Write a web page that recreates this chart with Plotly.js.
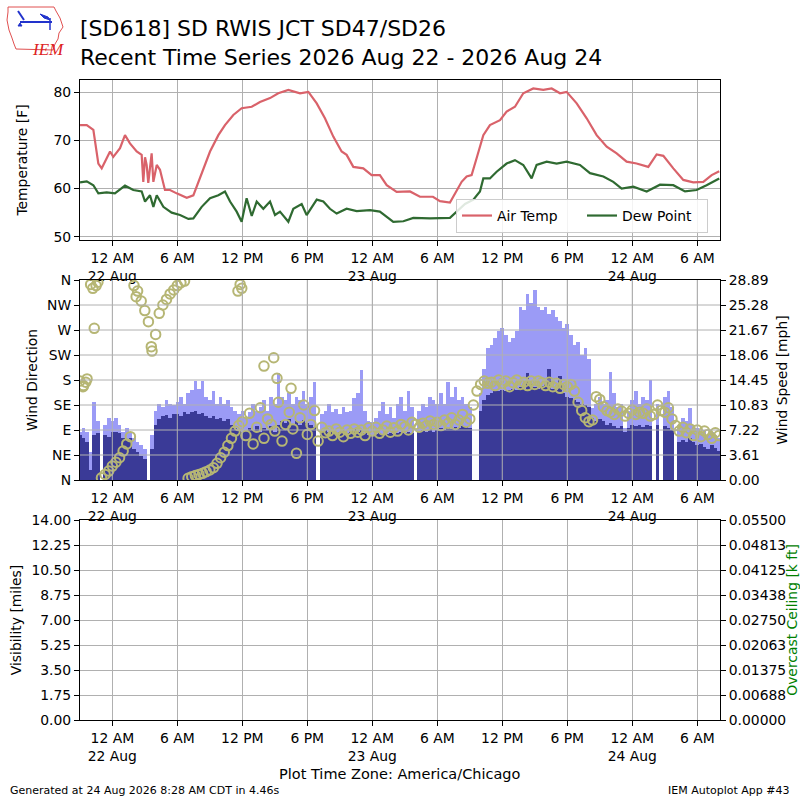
<!DOCTYPE html>
<html><head><meta charset="utf-8">
<script src="https://cdn.plot.ly/plotly-3.0.1.min.js"></script>
<style>html,body{margin:0;padding:0;background:#fff;} #chart{width:800px;height:800px;}</style>
</head><body><div id="chart"></div>
<script>
// ---------- DATA (hours relative to 2026-08-22 00:00 CDT) ----------
const tempHours = [-2.98,-2.36,-1.75,-1.29,-0.98,-0.67,-0.21,0.09,0.71,1.17,1.63,2.25,2.71,2.86,3.02,3.17,3.32,3.63,3.79,4.1,4.4,4.86,5.33,5.94,6.87,7.48,7.94,9.02,9.79,10.4,11.17,11.94,12.87,13.63,14.56,15.32,16.25,17.33,18.1,18.87,19.63,20.4,21.17,21.63,22.25,23.17,23.94,24.7,25.33,26.25,27.48,28.4,29.6,30.25,31.17,31.63,32.25,32.71,33.17,33.63,34.25,34.86,35.79,36.4,37.17,37.94,38.86,39.79,40.56,41.33,41.94,42.87,43.79,44.71,45.64,46.56,47.48,48.4,49.48,50.25,50.87,51.79,52.71,53.63,54.56,55.33,56.03];
const tempValues = [73.2,73.2,72.2,65.2,64.2,65.6,67.7,66.6,68.4,71.1,69.4,67.7,67.0,61.4,66.5,64.9,61.2,67.3,61.4,64.9,63.9,59.7,59.7,59.0,58.1,58.6,61.4,67.7,71.1,73.2,75.3,76.7,77.0,78.0,78.8,79.8,80.5,79.8,80.1,77.7,74.6,70.8,67.7,67.0,64.5,64.2,62.8,62.8,60.7,59.3,59.4,58.3,58.3,57.4,57.1,59.0,61.4,62.5,62.8,66.3,71.1,73.2,74.2,76.0,77.0,79.8,80.8,80.5,80.8,79.8,80.1,77.7,74.6,71.1,68.7,67.3,65.6,65.2,64.5,67.1,66.8,64.2,61.8,61.3,61.4,62.8,63.6];

const dewHours = [-2.98,-2.36,-1.75,-1.29,-0.52,0.24,1.17,1.94,2.71,3.02,3.48,3.79,4.1,4.71,5.48,6.25,7.02,7.48,8.25,9.02,9.79,10.4,10.87,11.48,11.94,12.4,12.87,13.33,13.94,14.56,15.02,15.48,16.25,16.71,17.48,17.94,18.87,19.48,20.09,20.71,21.63,22.56,23.79,24.7,25.94,26.87,27.79,29.33,31.17,31.79,32.56,33.33,33.94,34.25,34.86,35.48,36.4,37.17,37.94,38.71,39.17,40.1,41.02,41.94,43.17,44.1,45.33,46.25,47.02,48.1,49.33,50.56,51.79,52.87,53.94,54.86,56.03];
const dewValues = [61.3,61.5,60.7,59.0,59.2,59.0,60.6,59.7,59.4,57.3,58.6,56.2,58.6,56.2,55.0,54.5,53.7,53.8,56.2,58.0,58.6,59.4,57.3,55.2,53.1,58.0,54.3,57.3,55.8,57.3,54.5,55.2,53.1,55.8,56.8,54.5,57.7,57.3,55.8,54.8,55.8,55.3,55.5,55.2,53.1,53.2,53.9,53.8,53.9,55.2,56.8,57.7,59.4,62.1,62.1,63.5,65.2,65.9,64.9,62.1,64.9,65.6,65.2,65.6,64.9,63.2,62.5,61.4,60.0,60.4,59.4,60.8,60.7,59.4,59.7,60.7,62.1];

// wind: one reading every 20 minutes starting at hour -3
const windStartHour = -3;
const windStepMinutes = 20;
const windSpeed = [
 6.5,6.0,5.5, 1.5,6.5,6.8, null,6.5,6.2, 7.0,7.0,6.8, 6.0,5.8,6.0, 4.5,4.0,3.5, 3.0,null,4.5,
 8.0,8.8,9.2, 9.4,9.0,9.5, 9.6,9.2,9.8, 9.5,9.8,10.0, 9.5,9.7,9.2, 9.0,9.3,8.8, 9.0,8.5,8.8,
 8.0,7.5,7.2, 7.0,7.2,7.5, 7.2,7.8,7.0, 7.5,7.2,7.8, 7.0,8.0,8.5, 8.2,8.8,8.0, 8.5,8.0,8.6,
 8.2,8.0,7.6, null,7.0,7.2, 7.0,7.2,6.8, 7.0,7.2,6.8, 7.0,7.3,7.0, 7.2,6.8,6.5, 6.5,6.6,6.8,
 6.5,6.7,6.8, 6.6,6.8,7.0, 6.8,7.0,6.8, null,7.0,7.2, 7.0,7.3,7.0, 7.2,7.5,7.2, 7.5,7.4,7.6,
 7.5,7.8,7.6, 7.5,null,null, 10.0,11.5,12.3, 12.5,12.8,12.8, 13.0,12.8,13.0, 13.2,13.0,13.5,
 13.2,15.5,13.8, 13.5,13.2,13.6, 13.8,16.0,13.2, 13.0,15.0,12.5, 12.0,11.8,11.5, 11.3,11.0,10.8,
 10.5,9.0,8.5, 8.8,8.5,8.0, 8.2,7.8,7.5, 7.8,7.0,7.5, 8.0,7.8,8.0, 7.6,8.0,7.8, null,8.0,null,
 7.8,7.5,7.2, null,5.5,5.8, 5.5,6.0,5.5, 5.0,5.2,4.8, 4.5,5.0,4.6, 4.2];
const windGust = [
 7.0,7.5,7.0, 4.0,11.3,8.5, null,8.0,9.0, 8.5,9.0,8.0, 7.0,7.5,6.8, 6.0,5.5,5.0, 4.5,null,6.5,
 10.0,11.0,10.5, 11.5,11.0,10.8, 11.3,12.0,11.0, 12.5,13.0,14.3, 13.2,14.3,12.0, 11.5,12.8,11.0, 12.0,11.0,11.5,
 10.5,10.0,9.5, 10.0,9.0,9.8, 11.0,10.0,10.5, 11.5,10.0,12.0, 11.0,15.5,12.0, 11.5,12.5,11.0, 12.0,11.5,12.8,
 11.0,12.0,14.2, null,9.5,10.0, 11.0,9.8,10.2, 9.5,10.5,9.8, 10.0,11.8,12.5, 15.9,10.0,8.5, 8.4,9.0,10.0,
 11.3,9.5,10.5, 9.0,11.0,12.0, 10.0,12.8,10.5, null,10.0,11.0, 10.5,12.0,11.5, 11.0,12.5,11.0, 14.2,12.0,13.5,
 11.5,12.0,11.0, 10.5,null,null, 12.5,16.0,19.0, 19.5,20.5,21.5, 22.0,21.0,20.0, 20.5,21.5,25.0,
 24.5,26.9,25.5, 27.4,25.0,24.5, 25.0,24.0,24.5, 23.5,23.0,22.0, 22.5,21.0,19.5, 20.0,18.0,19.0,
 17.5,10.4,11.0, 12.0,11.0,11.5, 15.6,12.5,10.5, 11.0,7.5,10.0, 11.5,12.8,11.0, 12.0,11.5,14.5, null,11.0,null,
 12.0,12.8,10.5, null,8.0,9.0, 8.5,10.4,8.0, 7.5,7.0,7.2, 6.5,7.0,6.5, 6.0];
const windDir = [
 178,170,182, 352,273,356, 4,10,16, 25,32,40, 52,65,78, 350,340,322, 305,285,232,
 262,300,315, 325,335,342, 350,355,358, 3,6,8, 10,12,15, 18,22,30, 40,50,62,
 75,88,98, 105,80,120, 65,95,130, 75,110,100, 88,140,70, 100,122,92, 48,112,135,
 82,100,125, 70,95,85, 88,80,92, 86,78,90, 84,92,86, 90,80,94, 88,95,84,
 90,97,86, 94,88,100, 96,90,104, 100,95,102, 98,106,100, 104,98,108, 102,112,100,
 108,118,104, 110,135,160, 172,178,174, 176,170,180, 174,178,168, 175,180,172,
 176,170,178, 172,178,175, 170,176,168, 174,165,172, 168,172,160, 140,125,112,
 105,108,150, 145,132,125, 122,118,128, 124,115,120, 126,118,122, 120,128,115, 118,135,125,
 122,130,110, 98,88,95, 85,92,80, 90,78,88, 82,75,85, 80];
const dirExtraHours = [-2.7,-2.45,-1.8,-1.5,2.2,3.6,11.6,11.8,11.95,14.0,14.9,15.2,16.5];
const dirExtraValues = [168,176,345,350,330,240,340,352,345,205,220,183,165];

// axis labels
const timeTickVals = ['2026-08-22 00:00','2026-08-22 06:00','2026-08-22 12:00','2026-08-22 18:00','2026-08-23 00:00','2026-08-23 06:00','2026-08-23 12:00','2026-08-23 18:00','2026-08-24 00:00','2026-08-24 06:00'];
const timeTickText = ['12 AM<br>22 Aug','6 AM','12 PM','6 PM','12 AM<br>23 Aug','6 AM','12 PM','6 PM','12 AM<br>24 Aug','6 AM'];
const tempTicks = [50,60,70,80];
const dirTickVals = [0,45,90,135,180,225,270,315,360];
const dirTickText = ['N','NE','E','SE','S','SW','W','NW','N'];
const speedMax = 28.89;
const speedTickText = ['0.00','3.61','7.22','10.83','14.45','18.06','21.67','25.28','28.89'];
const visMax = 14;
const visTickText = ['0.00','1.75','3.50','5.25','7.00','8.75','10.50','12.25','14.00'];
const ceilMax = 0.055;
const ceilTickText = ['0.00000','0.00688','0.01375','0.02063','0.02750','0.03438','0.04125','0.04813','0.05500'];

// ---------- helpers ----------
const BASE = Date.UTC(2026,7,22,0,0,0);
function toDate(h){ return new Date(BASE + Math.round(h*3600000)).toISOString().slice(0,19).replace('T',' '); }
const windTimes = windSpeed.map((_,i)=>toDate(windStartHour + i*windStepMinutes/60));
const FONT = 'DejaVu Sans, Verdana, sans-serif';
const FS = 13.9;
const GRID = '#b0b0b0';
const xr = ['2026-08-21 21:01','2026-08-24 08:06'];

function xAxis(anchor){
  return {domain:[0.1,0.9], anchor:anchor, type:'date', range:xr, tickmode:'array',
    tickvals:timeTickVals, ticktext:timeTickText, ticks:'outside', ticklen:5, tickwidth:1, tickcolor:'#000',
    showline:true, mirror:true, linecolor:'#000', linewidth:1, showgrid:true, gridcolor:GRID, gridwidth:1,
    zeroline:false, tickfont:{size:FS}, tickangle:0};
}
function yBase(o){
  return Object.assign({ticks:'outside', ticklen:5, tickwidth:1, tickcolor:'#000', showline:true, linecolor:'#000',
    linewidth:1, showgrid:true, gridcolor:GRID, gridwidth:1, zeroline:false, tickfont:{size:FS}}, o);
}
function steps(n, max){ const a=[]; for(let i=0;i<=n;i++) a.push(max*i/n); return a; }

// ---------- traces ----------
const traces = [
  {type:'scatter', mode:'lines', name:'Air Temp', x:tempHours.map(toDate), y:tempValues, xaxis:'x', yaxis:'y',
   line:{color:'#d9626a', width:2.2}},
  {type:'scatter', mode:'lines', name:'Dew Point', x:dewHours.map(toDate), y:dewValues, xaxis:'x', yaxis:'y',
   line:{color:'#2f6a31', width:2.2}},
  {type:'bar', name:'Wind Gust', x:windTimes, y:windGust, xaxis:'x2', yaxis:'y2', width:windStepMinutes*60000,
   marker:{color:'#9b9bf6', line:{width:0}}, showlegend:false},
  {type:'bar', name:'Wind Speed', x:windTimes, y:windSpeed, xaxis:'x2', yaxis:'y2', width:windStepMinutes*60000,
   marker:{color:'#3a3a97', line:{width:0}}, showlegend:false},
  {type:'scatter', mode:'markers', name:'Wind Direction', x:windTimes.concat(dirExtraHours.map(toDate)),
   y:windDir.concat(dirExtraValues), xaxis:'x2', yaxis:'y4', showlegend:false,
   marker:{symbol:'circle-open', size:9.5, color:'#b6b674', line:{width:2, color:'#b6b674'}}},
  {type:'scatter', mode:'markers', name:'Visibility', x:[], y:[], xaxis:'x3', yaxis:'y3', showlegend:false},
  {type:'scatter', mode:'markers', name:'Ceiling', x:[], y:[], xaxis:'x3', yaxis:'y5', showlegend:false}
];

// gridlines drawn over the wind bars (as in the original)
const shapes = [];
dirTickVals.slice(1,-1).forEach(v=>shapes.push({type:'line', xref:'paper', yref:'y4', x0:0.1, x1:0.9, y0:v, y1:v,
  line:{color:GRID, width:1}, layer:'above'}));
timeTickVals.forEach(v=>shapes.push({type:'line', xref:'x2', yref:'paper', x0:v, x1:v, y0:0.4, y1:0.65,
  line:{color:GRID, width:1}, layer:'above'}));

// logo (approximate IEM logo)
function P(pts, close){ return pts.map((p,i)=>(i?'L':'M')+(p[0]/800).toFixed(5)+','+(1-p[1]/800).toFixed(5)).join(' ')+(close?' Z':''); }
shapes.push({type:'path', xref:'paper', yref:'paper', path:P([[8,7],[54,7],[56,11],[60,18],[63,27],[59,33],[58,39],[55,44],[53,50],[16,49],[14,44],[12,38],[9,30],[7,20],[8,12]], true), line:{color:'#e05050', width:1}});
shapes.push({type:'path', xref:'paper', yref:'paper', path:P([[20,22],[52,22]]), line:{color:'#2233cc', width:2}});
shapes.push({type:'path', xref:'paper', yref:'paper', path:P([[18,11],[24,20]]), line:{color:'#2233cc', width:2}});
shapes.push({type:'path', xref:'paper', yref:'paper', path:P([[40,14],[48,17],[50,20],[44,18]], true), fillcolor:'#2233cc', line:{color:'#2233cc', width:1}});
shapes.push({type:'path', xref:'paper', yref:'paper', path:P([[50,18],[50,30]]), line:{color:'#2233cc', width:1.5}});
shapes.push({type:'path', xref:'paper', yref:'paper', path:P([[20,23],[22,26],[18,26]], true), fillcolor:'#2233cc', line:{color:'#2233cc', width:1}});

const annotations = [
  {text:'<i>IEM</i>', xref:'paper', yref:'paper', x:30/800, y:1-38/800, showarrow:false, font:{family:'Liberation Serif, serif', size:17, color:'#dd2222'}},
  {text:'Plot Time Zone: America/Chicago', xref:'paper', yref:'paper', x:0.5, y:1-774/800, xanchor:'center', yanchor:'middle', showarrow:false, font:{size:14.5}},
  {text:'Generated at 24 Aug 2026 8:28 AM CDT in 4.46s', xref:'paper', yref:'paper', x:8/800, y:1-790/800, xanchor:'left', yanchor:'middle', showarrow:false, font:{size:11}},
  {text:'IEM Autoplot App #43', xref:'paper', yref:'paper', x:792/800, y:1-790/800, xanchor:'right', yanchor:'middle', showarrow:false, font:{size:11}}
];

const layout = {
  width:800, height:800, margin:{l:0,r:0,t:0,b:0}, paper_bgcolor:'#fff', plot_bgcolor:'#fff',
  font:{family:FONT, size:FS, color:'#000'},
  title:{text:'[SD618] SD RWIS JCT SD47/SD26<br>Recent Time Series 2026 Aug 22 - 2026 Aug 24', x:0.1, xref:'paper', xanchor:'left',
    y:1-36/800, yref:'container', yanchor:'top', font:{size:22, color:'#000'}},
  barmode:'overlay', bargap:0,
  showlegend:true,
  legend:{orientation:'h', x:0.885, xanchor:'right', y:1-233/800, yanchor:'bottom', bgcolor:'rgba(255,255,255,0.85)',
    bordercolor:'#cccccc', borderwidth:1, font:{size:FS}, traceorder:'normal', entrywidth:80, itemwidth:30},
  xaxis: xAxis('y'),
  xaxis2: xAxis('y2'),
  xaxis3: xAxis('y3'),
  yaxis: yBase({domain:[0.7,0.9], anchor:'x', range:[49.31,82.56], tickmode:'array', tickvals:tempTicks, mirror:true,
    title:{text:'Temperature [F]', standoff:22, font:{size:FS}}}),
  yaxis2: yBase({domain:[0.4,0.65], anchor:'x2', side:'right', range:[0,speedMax], tickmode:'array',
    tickvals:steps(8,speedMax), ticktext:speedTickText, showgrid:false, mirror:true,
    title:{text:'Wind Speed [mph]', standoff:9, font:{size:FS}}}),
  yaxis4: yBase({overlaying:'y2', anchor:'x2', side:'left', range:[0,360], tickmode:'array', tickvals:dirTickVals,
    ticktext:dirTickText, showgrid:false, title:{text:'Wind Direction', standoff:6, font:{size:FS}}}),
  yaxis3: yBase({domain:[0.1,0.35], anchor:'x3', range:[0,visMax], tickmode:'array', tickvals:steps(8,visMax),
    ticktext:visTickText, mirror:true, title:{text:'Visibility [miles]', standoff:6, font:{size:FS}}}),
  yaxis5: yBase({overlaying:'y3', anchor:'x3', side:'right', range:[0,ceilMax], tickmode:'array', tickvals:steps(8,ceilMax),
    ticktext:ceilTickText, showgrid:false, title:{text:'Overcast Ceiling [k ft]', standoff:17, font:{size:FS, color:'#008000'}}}),
  shapes:shapes, annotations:annotations
};

Plotly.newPlot('chart', traces, layout, {displayModeBar:false, staticPlot:true});
</script></body></html>
